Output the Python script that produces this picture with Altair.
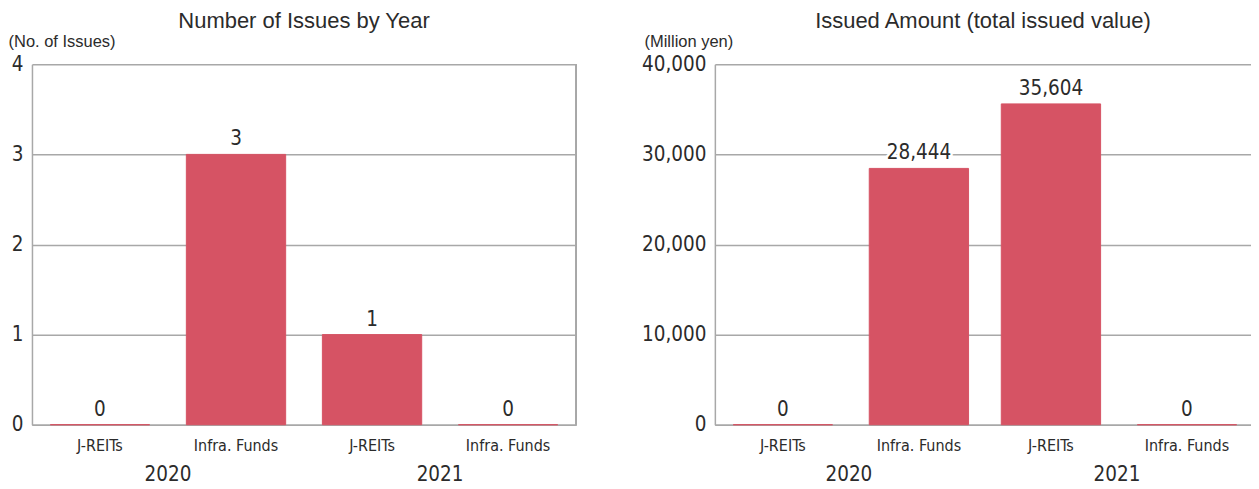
import altair as alt
import pandas as pd

years = ["2020", "2020", "2021", "2021"]
types = ["J-REITs", "Infra. Funds", "J-REITs", "Infra. Funds"]
issues = [0, 3, 1, 0]
amounts = [0, 28444, 35604, 0]

type_order = ["J-REITs", "Infra. Funds"]

NUM_FONT = "DejaVu Sans Condensed, Roboto, sans-serif"
TXT_FONT = "Liberation Sans, Roboto, sans-serif"
BAR = "#d65364"
INK = "#2b2b2b"
GRID = "#a8a8a8"
H = 361


def panel(values, title, ytitle, ymax, step, fmt, title_x, width, right_border):
    df = pd.DataFrame({"year": years, "type": types, "value": values})
    x = alt.X("year:N", title=None,
              scale=alt.Scale(paddingInner=0, paddingOuter=0),
              axis=alt.Axis(labelAngle=0, labelFontSize=20.5, labelFont=NUM_FONT,
                            labelColor=INK, labelPadding=40, ticks=False,
                            domain=True, domainColor=GRID, domainWidth=1.5, grid=False))
    xo = alt.XOffset("type:N", sort=type_order,
                     scale=alt.Scale(domain=type_order, paddingInner=0.27, paddingOuter=0.135))
    y = alt.Y("value:Q", title=ytitle,
              scale=alt.Scale(domain=[0, ymax], nice=False, zero=True),
              axis=alt.Axis(values=list(range(0, ymax + 1, step)), format=fmt,
                            labelFontSize=20.5, labelFont=NUM_FONT, labelColor=INK,
                            labelPadding=9, ticks=False,
                            domain=True, domainColor=GRID, domainWidth=1.5,
                            grid=True, gridColor=GRID, gridWidth=1.5,
                            titleAngle=0, titleX=title_x, titleY=-23,
                            titleAlign="left", titleBaseline="middle",
                            titleFont=TXT_FONT, titleFontSize=16.5,
                            titleFontWeight="normal", titleColor=INK))
    base = alt.Chart(df)
    bars = base.mark_bar(color=BAR, stroke=BAR, strokeWidth=1).encode(x=x, xOffset=xo, y=y)
    halo = base.mark_text(baseline="bottom", dy=-5, fontSize=20.5, font=NUM_FONT,
                          color="white", stroke="white", strokeWidth=5).encode(
        x="year:N", xOffset=xo, y="value:Q", text=alt.Text("value:Q", format=fmt))
    labels = base.mark_text(baseline="bottom", dy=-5, fontSize=20.5, font=NUM_FONT,
                            color=INK).encode(
        x="year:N", xOffset=xo, y="value:Q", text=alt.Text("value:Q", format=fmt))
    cats = base.mark_text(baseline="middle", fontSize=16, font=NUM_FONT, color=INK).encode(
        x="year:N", xOffset=xo, y=alt.value(H + 21), text="type:N")
    layers = [bars, halo, labels, cats]
    if right_border:
        layers.append(base.mark_rule(color=GRID, strokeWidth=1.5).encode(
            x=alt.value(width), y=alt.value(0), y2=alt.value(H)))
    return alt.layer(*layers).properties(
        width=width, height=H,
        title=alt.TitleParams(title, fontSize=22, font=TXT_FONT, fontWeight="normal",
                              color=INK, anchor="middle", frame="group", offset=0))


left = panel(issues, "Number of Issues by Year", "(No. of Issues)", 4, 1, "d", -24, 545, True)
right = panel(amounts, "Issued Amount (total issued value)", "(Million yen)", 40000, 10000,
              ",.0f", -71, 537, False)

chart = alt.hconcat(left, right, spacing=64).properties(
    padding={"top": 2, "left": 0, "right": 0, "bottom": 0}).configure_view(stroke=None)

chart.save("out.html", embed_options={"renderer": "svg", "actions": False})
